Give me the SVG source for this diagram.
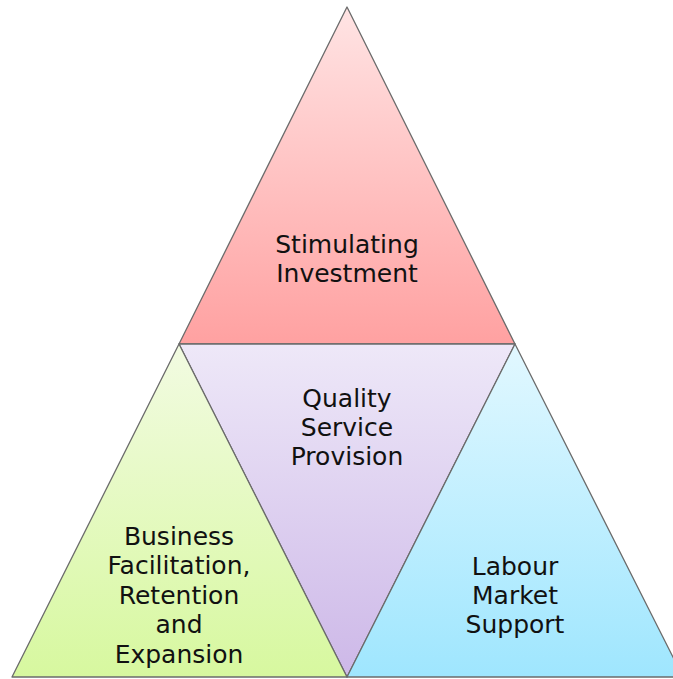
<svg xmlns="http://www.w3.org/2000/svg" width="673" height="679" viewBox="0 0 673 679">
<defs>
<linearGradient id="gTop" x1="0" y1="0" x2="0" y2="1"><stop offset="0" stop-color="#ffe4e4"/><stop offset="1" stop-color="#ffa1a1"/></linearGradient>
<linearGradient id="gMid" x1="0" y1="0" x2="0" y2="1"><stop offset="0" stop-color="#eee8f8"/><stop offset="1" stop-color="#cdb8e8"/></linearGradient>
<linearGradient id="gLeft" x1="0" y1="0" x2="0" y2="1"><stop offset="0" stop-color="#f2fbe2"/><stop offset="1" stop-color="#d7f89f"/></linearGradient>
<linearGradient id="gRight" x1="0" y1="0" x2="0" y2="1"><stop offset="0" stop-color="#e2f8ff"/><stop offset="1" stop-color="#9fe6fe"/></linearGradient>
</defs>
<style>
.tri{stroke:#6b6b6b;stroke-width:1.3;stroke-linejoin:round}
.lbl{font-family:"DejaVu Sans","Liberation Sans",sans-serif;font-size:25px;fill:#111;text-anchor:middle}
</style>
<rect width="673" height="679" fill="#ffffff"/>
<g id="stimulating-investment">
<polygon class="tri" fill="url(#gTop)" points="347,7 515,344 179,344"/>
<text class="lbl" x="347" y="253">Stimulating</text>
<text class="lbl" x="347" y="282">Investment</text>
</g>
<g id="quality-service-provision">
<polygon class="tri" fill="url(#gMid)" points="179,344 515,344 347,677"/>
<text class="lbl" x="347" y="407">Quality</text>
<text class="lbl" x="347" y="436">Service</text>
<text class="lbl" x="347" y="465">Provision</text>
</g>
<g id="business-facilitation">
<polygon class="tri" fill="url(#gLeft)" points="179,344 347,677 12,677"/>
<text class="lbl" x="179" y="545">Business</text>
<text class="lbl" x="179" y="574">Facilitation,</text>
<text class="lbl" x="179" y="604">Retention</text>
<text class="lbl" x="179" y="633">and</text>
<text class="lbl" x="179" y="663">Expansion</text>
</g>
<g id="labour-market-support">
<polygon class="tri" fill="url(#gRight)" points="515,344 683,677 347,677"/>
<text class="lbl" x="515" y="575">Labour</text>
<text class="lbl" x="515" y="604">Market</text>
<text class="lbl" x="515" y="633">Support</text>
</g>
<g id="connectors"/>
</svg>
